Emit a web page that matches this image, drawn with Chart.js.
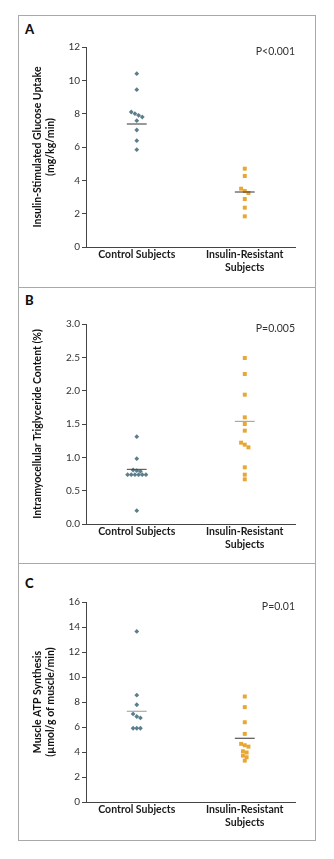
<!DOCTYPE html>
<html>
<head>
<meta charset="utf-8">
<script src="https://cdn.jsdelivr.net/npm/chart.js@4.4.1/dist/chart.umd.min.js"></script>
<style>
  body { margin: 0; background: #fff; font-family: Lato, sans-serif; }
  .frame { position: absolute; left: 18px; top: 15px; width: 298px; height: 826px; box-sizing: border-box; border: 1px solid #a9a9a9; }
  .sep { position: absolute; left: 18px; width: 298px; height: 1px; background: #a9a9a9; }
  canvas { position: absolute; left: 19px; }
  .letter { position: absolute; left: 25px; font: 900 13px Lato, sans-serif; line-height: 13px; color: #111; }
</style>
</head>
<body>
<div class="frame"></div>
<div class="sep" style="top:287px"></div>
<div class="sep" style="top:563px"></div>
<div class="letter" style="top:23px">A</div>
<div class="letter" style="top:294px">B</div>
<div class="letter" style="top:577px">C</div>
<canvas id="chart_a" width="295" height="271" style="top:16px"></canvas>
<canvas id="chart_b" width="295" height="275" style="top:288px"></canvas>
<canvas id="chart_c" width="295" height="276" style="top:564px"></canvas>
<script>
// DATA
const x_labels = ['Control Subjects', ['Insulin-Resistant', 'Subjects']];

// A - glucose uptake (mg/kg/min)
const control_a = [10.4, 9.44, 8.1, 8.0, 7.9, 7.8, 7.58, 7.02, 6.38, 5.84];
const resistant_a = [4.7, 4.26, 3.5, 3.36, 3.24, 2.88, 2.36, 1.84];
const means_a = [7.38, 3.3];
const ticks_a = [0, 2, 4, 6, 8, 10, 12];

// B - intramyocellular triglyceride (%)
const control_b = [1.31, 0.98, 0.81, 0.8, 0.79, 0.74, 0.74, 0.74, 0.74, 0.74, 0.74, 0.2];
const resistant_b = [2.49, 2.25, 1.94, 1.6, 1.5, 1.4, 1.22, 1.19, 1.15, 0.85, 0.74, 0.67];
const means_b = [0.82, 1.54];
const ticks_b = [0, 0.5, 1.0, 1.5, 2.0, 2.5, 3.0];

// C - ATP synthesis (umol/g of muscle/min)
const control_c = [13.65, 8.55, 7.78, 7.05, 6.84, 6.73, 5.9, 5.9, 5.9];
const resistant_c = [8.44, 7.59, 6.38, 5.45, 4.65, 4.54, 4.43, 4.06, 3.96, 3.71, 3.58, 3.31];
const means_c = [7.26, 5.1];
const ticks_c = [0, 2, 4, 6, 8, 10, 12, 14, 16];

const CONTROL_COLOR = '#5c7e8b';
const RESISTANT_COLOR = '#e9a632';
const STEP = 0.034;   // sideways step between stacked points (x units)
const GAP = 3;        // points closer than this (px) get stacked sideways

// spread points that would sit on top of each other
function spread(values, center, px_per_unit) {
	const order = values.map((v, i) => i).sort((a, b) => values[b] - values[a]);
	const xs = [];
	let group = [];
	const flush = () => {
		group.forEach((idx, k) => { xs[idx] = center + (k - (group.length - 1) / 2) * STEP; });
		group = [];
	};
	order.forEach(idx => {
		if (group.length && (values[group[group.length - 1]] - values[idx]) * px_per_unit > GAP) flush();
		group.push(idx);
	});
	flush();
	return values.map((v, i) => ({ x: xs[i], y: v }));
}

function meanLine(value, center, color) {
	return {
		data: [{ x: center - 0.092, y: value }, { x: center + 0.092, y: value }],
		showLine: true, borderColor: color, borderWidth: 1, pointRadius: 0, order: 0
	};
}

// P VALUE TEXT
const pValuePlugin = {
	id: 'pvalue',
	afterDraw(chart, args, opts) {
		const { ctx, chartArea } = chart;
		ctx.save();
		ctx.font = '10.5px Lato, sans-serif';
		ctx.fillStyle = '#333';
		ctx.textAlign = 'right';
		ctx.textBaseline = 'middle';
		ctx.fillText(opts.text, chartArea.right, chartArea.top + 5);
		ctx.restore();
	}
};

function makeChart(id, control, resistant, means, ticks, title, p_text, top_pad, x_height, mean_colors) {
	const y_max = ticks[ticks.length - 1];
	const ppu = 200 / y_max;
	new Chart(document.getElementById(id).getContext('2d'), {
		type: 'scatter',
		data: {
			datasets: [
				{ data: spread(control, 1, ppu), pointStyle: 'rectRot', pointRadius: 2.4, backgroundColor: CONTROL_COLOR, borderWidth: 0, order: 1 },
				{ data: spread(resistant, 2, ppu), pointStyle: 'rect', pointRadius: 2.8, backgroundColor: RESISTANT_COLOR, borderWidth: 0, order: 1 },
				meanLine(means[0], 1, mean_colors[0]),
				meanLine(means[1], 2, mean_colors[1])
			]
		},
		options: {
			responsive: false,
			animation: false,
			layout: { padding: { top: top_pad, right: 19, left: 0, bottom: 0 } },
			plugins: { legend: { display: false }, tooltip: { enabled: false }, pvalue: { text: p_text } },
			scales: {
				x: {
					type: 'linear', min: 0.53, max: 2.465,
					afterBuildTicks: s => { s.ticks = [{ value: 1 }, { value: 2 }]; },
					afterFit: s => { s.height = x_height; },
					grid: { display: false, drawTicks: false },
					border: { display: true, color: '#444', width: 1 },
					ticks: {
						autoSkip: false, maxRotation: 0, padding: 2, color: '#1a1a1a',
						font: { family: 'Lato', size: 10.5, weight: 'bold', lineHeight: 1.15 },
						callback: v => x_labels[v - 1]
					}
				},
				y: {
					min: 0, max: y_max,
					afterBuildTicks: s => { s.ticks = ticks.map(v => ({ value: v })); },
					afterFit: s => { s.width = 67; },
					grid: { drawOnChartArea: false, drawTicks: true, tickLength: 4, color: '#444' },
					border: { display: true, color: '#444', width: 1 },
					ticks: {
						padding: 2, color: '#333',
						font: { family: 'Lato', size: 10 },
						callback: v => (y_max < 5 ? v.toFixed(1) : v)
					},
					title: {
						display: true, text: title, color: '#111',
						font: { family: 'Lato', size: 10.5, weight: 'bold', lineHeight: 1.15 },
						padding: { top: 13, bottom: 0 }
					}
				}
			}
		},
		plugins: [pValuePlugin]
	});
}

makeChart('chart_a', control_a, resistant_a, means_a, ticks_a,
	['Insulin-Stimulated Glucose Uptake', '(mg/kg/min)'], 'P<0.001', 31, 40, ['#333', '#333']);
makeChart('chart_b', control_b, resistant_b, means_b, ticks_b,
	'Intramyocellular Triglyceride Content (%)', 'P=0.005', 36, 39, ['#444', '#999']);
makeChart('chart_c', control_c, resistant_c, means_c, ticks_c,
	['Muscle ATP Synthesis', '(\u00b5mol/g of muscle/min)'], 'P=0.01', 38, 38, ['#999', '#333']);
</script>
</body>
</html>
